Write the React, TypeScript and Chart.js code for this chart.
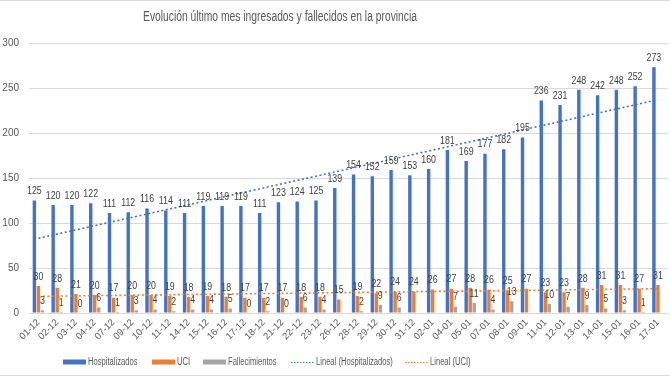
import React, { useEffect, useRef } from "react";
import { Chart, registerables } from "chart.js";
Chart.register(...registerables);

const titleText = "Evolución último mes ingresados y fallecidos en la provincia";

const categories = [
  "01-12", "02-12", "03-12", "04-12", "07-12", "09-12", "10-12", "11-12", "14-12", "15-12",
  "16-12", "17-12", "18-12", "21-12", "22-12", "23-12", "26-12", "28-12", "29-12", "30-12",
  "31-12", "02-01", "04-01", "05-01", "07-01", "08-01", "09-01", "11-01", "12-01", "13-01",
  "14-01", "15-01", "16-01", "17-01",
];

const hospitalizados = [
  125, 120, 120, 122, 111, 112, 116, 114, 111, 119,
  119, 119, 111, 123, 124, 125, 139, 154, 152, 159,
  153, 160, 181, 169, 177, 182, 195, 236, 231, 248,
  242, 248, 252, 273,
];

const uci = [
  30, 28, 21, 20, 17, 20, 20, 19, 18, 19,
  18, 17, 17, 17, 18, 18, 15, 19, 22, 24,
  24, 26, 27, 28, 26, 25, 27, 23, 23, 28,
  31, 31, 27, 31,
];

const fallecimientos: (number | null)[] = [
  3, 1, 0, 6, 1, 3, 4, 2, 4, 4,
  5, 0, 2, 0, 6, 4, null, 2, 9, 6,
  null, null, 7, 11, 4, 13, null, 10, 7, 9,
  5, 3, 1, null,
];

// Trend line end values (first and last category)
const trendHospitalizados = [83, 237];
const trendUci = [18.5, 27];

const yTicks = [0, 50, 100, 150, 200, 250, 300];

const seriesNames = ["Hospitalizados", "UCI", "Fallecimientos", "Lineal (Hospitalizados)", "Lineal (UCI)"];

const BLUE = "#4472C4";
const ORANGE = "#ED7D31";
const GRAY = "#A5A5A5";
const TEXT = "#595959";
const LABEL = "#404040";
const GRID = "#D9D9D9";
const FONT = "'Liberation Sans', Arial, sans-serif";

function fillTextSX(ctx: CanvasRenderingContext2D, text: string, x: number, y: number, sx: number, align: CanvasTextAlign) {
  ctx.save();
  ctx.translate(x, y);
  ctx.scale(sx, 1);
  ctx.textAlign = align;
  ctx.fillText(text, 0, 0);
  ctx.restore();
}

export default function App() {
  const ref = useRef<HTMLCanvasElement | null>(null);

  useEffect(() => {
    if (!ref.current) return;
    const last = categories.length - 1;

    const labelsPlugin = {
      id: "valueLabels",
      afterDatasetsDraw(chart: any) {
        const ctx = chart.ctx;
        ctx.save();
        ctx.font = `10px ${FONT}`;
        ctx.fillStyle = LABEL;
        ctx.textBaseline = "bottom";
        for (let i = 0; i < 3; i++) {
          const meta = chart.getDatasetMeta(i);
          const data = chart.data.datasets[i].data;
          meta.data.forEach((el: any, j: number) => {
            const v = data[j];
            if (v === null || v === undefined) return;
            fillTextSX(ctx, String(v), el.x, el.y - 4, 0.88, "center");
          });
        }
        ctx.restore();
      },
    };

    const decorPlugin = {
      id: "decor",
      afterDraw(chart: any) {
        const ctx = chart.ctx;
        const W = chart.width;
        ctx.save();
        // border lines
        ctx.strokeStyle = GRID;
        ctx.lineWidth = 1;
        ctx.beginPath();
        ctx.moveTo(0, 0.5);
        ctx.lineTo(W, 0.5);
        ctx.moveTo(0, 375.5);
        ctx.lineTo(W, 375.5);
        ctx.stroke();
        // title
        ctx.font = `14px ${FONT}`;
        ctx.fillStyle = TEXT;
        ctx.textBaseline = "middle";
        const tw = ctx.measureText(titleText).width;
        fillTextSX(ctx, titleText, 280, 17, 274 / tw, "center");
        // legend
        ctx.font = `10px ${FONT}`;
        const items = [
          { kind: "rect", color: BLUE, x: 63 },
          { kind: "rect", color: ORANGE, x: 152 },
          { kind: "rect", color: GRAY, x: 203 },
          { kind: "line", color: BLUE, x: 291 },
          { kind: "line", color: ORANGE, x: 405 },
        ];
        const boxW = 23;
        const y = 362;
        items.forEach((it, k) => {
          const x = it.x;
          if (it.kind === "rect") {
            ctx.fillStyle = it.color;
            ctx.fillRect(x, y - 2.5, boxW, 5);
          } else {
            ctx.strokeStyle = it.color;
            ctx.lineWidth = 1;
            ctx.setLineDash([1.5, 1.5]);
            ctx.beginPath();
            ctx.moveTo(x, y + 0.5);
            ctx.lineTo(x + boxW, y + 0.5);
            ctx.stroke();
            ctx.setLineDash([]);
          }
          ctx.fillStyle = TEXT;
          ctx.textBaseline = "middle";
          fillTextSX(ctx, seriesNames[k], x + boxW + 2, y + 0.5, 0.76, "left");
        });
        ctx.restore();
      },
    };

    const chart = new Chart(ref.current, {
      type: "bar",
      data: {
        labels: categories,
        datasets: [
          { label: seriesNames[0], data: hospitalizados, backgroundColor: BLUE, order: 1 },
          { label: seriesNames[1], data: uci, backgroundColor: ORANGE, order: 1 },
          { label: seriesNames[2], data: fallecimientos, backgroundColor: GRAY, order: 1 },
          {
            type: "line",
            label: seriesNames[3],
            data: [
              { x: categories[0], y: trendHospitalizados[0] },
              { x: categories[last], y: trendHospitalizados[1] },
            ],
            borderColor: BLUE,
            borderWidth: 1.6,
            borderDash: [2, 2.5],
            pointRadius: 0,
            fill: false,
            order: 0,
          } as any,
          {
            type: "line",
            label: seriesNames[4],
            data: [
              { x: categories[0], y: trendUci[0] },
              { x: categories[last], y: trendUci[1] },
            ],
            borderColor: ORANGE,
            borderWidth: 1.6,
            borderDash: [2, 2.5],
            pointRadius: 0,
            fill: false,
            order: 0,
          } as any,
        ],
      },
      options: {
        responsive: false,
        animation: false,
        devicePixelRatio: 1,
        datasets: {
          bar: { categoryPercentage: 0.64, barPercentage: 0.85 },
        },
        layout: { padding: { top: 43, bottom: 30, left: 0, right: 1 } },
        plugins: {
          legend: { display: false },
          title: { display: false },
          tooltip: { enabled: false },
        },
        scales: {
          x: {
            offset: true,
            grid: { display: false, drawTicks: false },
            border: { display: true, color: GRID },
            ticks: {
              autoSkip: false,
              maxRotation: 45,
              minRotation: 45,
              padding: 4,
              color: TEXT,
              font: { family: FONT, size: 9.5 },
            },
            afterFit(scale: any) {
              scale.height = 34;
            },
          },
          y: {
            min: 0,
            max: 300,
            afterBuildTicks(scale: any) {
              scale.ticks = yTicks.map((v) => ({ value: v }));
            },
            grid: { color: GRID, drawTicks: false },
            border: { display: false },
            ticks: {
              padding: 10,
              color: TEXT,
              font: { family: FONT, size: 10 },
            },
            afterFit(scale: any) {
              scale.width = 29;
            },
          },
        },
      },
      plugins: [labelsPlugin, decorPlugin],
    } as any);

    return () => chart.destroy();
  }, []);

  return (
    <div style={{ position: "fixed", left: 0, top: 0, width: 670, height: 377, background: "#fff" }}>
      <canvas ref={ref} width={670} height={377} style={{ display: "block" }} />
    </div>
  );
}
